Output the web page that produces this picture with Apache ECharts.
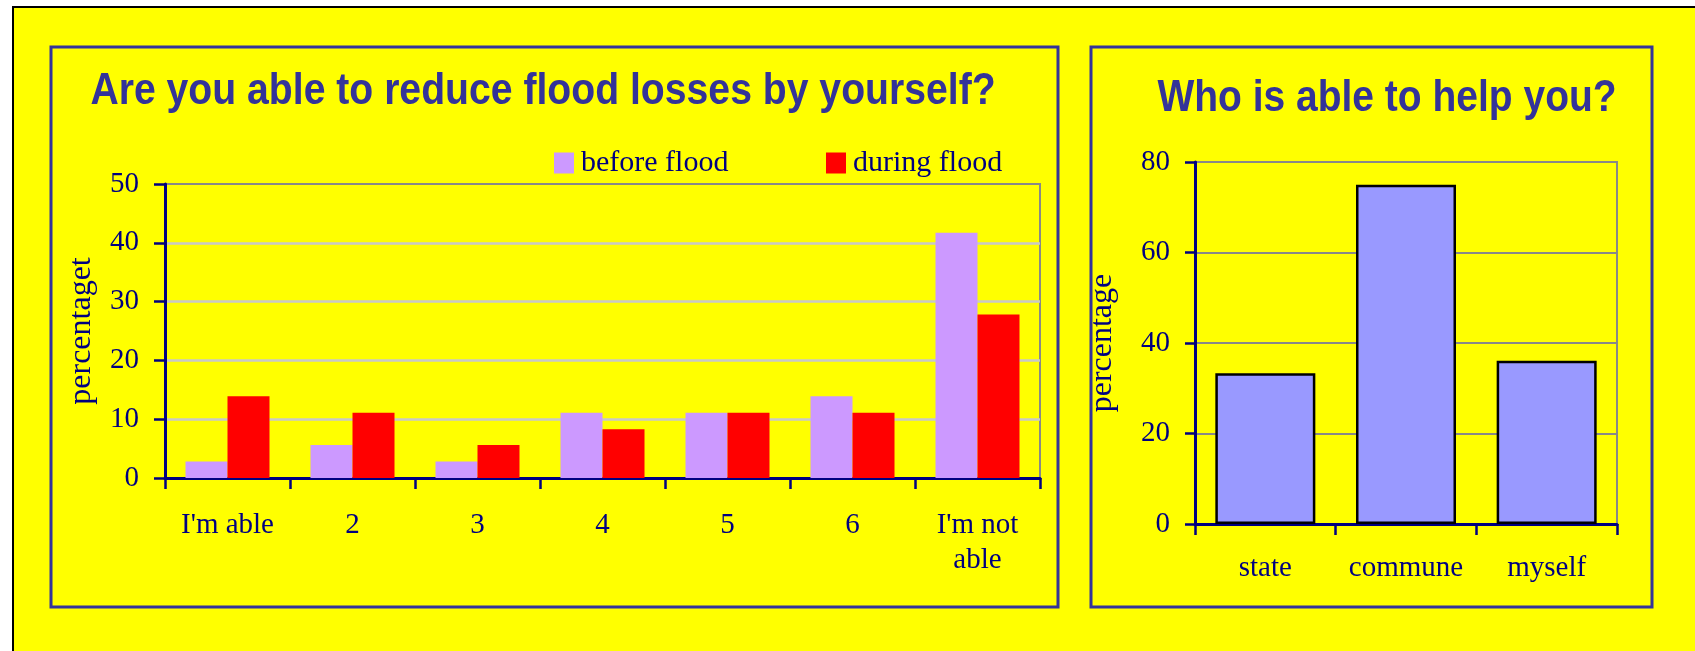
<!DOCTYPE html>
<html>
<head>
<meta charset="utf-8">
<script src="https://cdn.jsdelivr.net/npm/echarts@6/dist/echarts.min.js"></script>
<style>
  html, body { margin: 0; padding: 0; background: #ffffff; }
  #chart { width: 1695px; height: 651px; }
</style>
</head>
<body>
<div id="chart"></div>
<script>
// ---- data ----
const categories = ["I'm able", "2", "3", "4", "5", "6", "I'm not\nable"];
const beforeFlood = [2.8, 5.6, 2.8, 11.1, 11.1, 13.9, 41.7];
const duringFlood = [13.9, 11.1, 5.6, 8.3, 11.1, 11.1, 27.8];
const helpers = ["state", "commune", "myself"];
const helpValues = [33.3, 75.0, 36.1];
const leftTitle = "Are you able to reduce flood losses by yourself?";
const rightTitle = "Who is able to help you?";
const leftAxisName = "percentaget";
const rightAxisName = "percentage";

const NAVY = '#000080';
const TITLE = '#333399';
const SERIF = "'Liberation Serif', 'Times New Roman', serif";
const SANS = "'Liberation Sans', Arial, sans-serif";

const chart = echarts.init(document.getElementById('chart'), null, { renderer: 'canvas' });

const labelStyle = { fontFamily: SERIF, fontSize: 29, color: NAVY };

const option = {
  backgroundColor: '#ffffff',
  animation: false,
  graphic: [
    { type: 'rect', z: -10, shape: { x: 13, y: 7, width: 1700, height: 660 },
      style: { fill: '#FFFF00', stroke: '#000000', lineWidth: 2 } },
    { type: 'rect', z: -9, shape: { x: 51, y: 47, width: 1007, height: 560 },
      style: { fill: 'none', stroke: '#333399', lineWidth: 3 } },
    { type: 'rect', z: -9, shape: { x: 1091, y: 47, width: 561, height: 560 },
      style: { fill: 'none', stroke: '#333399', lineWidth: 3 } },
    { type: 'text', z: 5, x: 543, y: 91.5, scaleX: 0.89, scaleY: 1,
      style: { text: leftTitle, align: 'center', verticalAlign: 'middle',
               font: "bold 44px " + SANS, fill: TITLE } },
    { type: 'text', z: 5, x: 1387, y: 99, scaleX: 0.886, scaleY: 1,
      style: { text: rightTitle, align: 'center', verticalAlign: 'middle',
               font: "bold 44px " + SANS, fill: TITLE } }
  ],
  legend: [
    { data: ['before flood'], left: 554, top: 148, itemWidth: 20, itemHeight: 21,
      icon: 'rect', padding: 0, itemGap: 0, selectedMode: false,
      textStyle: { fontFamily: SERIF, fontSize: 30, color: NAVY, padding: [0, 0, 0, 2] } },
    { data: ['during flood'], left: 826, top: 148, itemWidth: 20, itemHeight: 21,
      icon: 'rect', padding: 0, itemGap: 0, selectedMode: false,
      textStyle: { fontFamily: SERIF, fontSize: 30, color: NAVY, padding: [0, 0, 0, 2] } }
  ],
  grid: [
    { left: 165, top: 184, width: 875, height: 294, show: true,
      borderColor: '#888888', borderWidth: 2, backgroundColor: 'transparent', containLabel: false },
    { left: 1195, top: 162, width: 422, height: 362, show: true,
      borderColor: '#888888', borderWidth: 2, backgroundColor: 'transparent', containLabel: false }
  ],
  xAxis: [
    { gridIndex: 0, type: 'category', data: categories,
      axisLine: { show: true, lineStyle: { color: NAVY, width: 3 } },
      axisTick: { show: true, length: 11, lineStyle: { color: NAVY, width: 2.5 } },
      axisLabel: Object.assign({ margin: 30, interval: 0, lineHeight: 35 }, labelStyle),
      splitLine: { show: false } },
    { gridIndex: 1, type: 'category', data: helpers,
      axisLine: { show: true, lineStyle: { color: NAVY, width: 3 } },
      axisTick: { show: true, length: 11, lineStyle: { color: NAVY, width: 2.5 } },
      axisLabel: Object.assign({ margin: 30, interval: 0 }, labelStyle),
      splitLine: { show: false } }
  ],
  yAxis: [
    { gridIndex: 0, type: 'value', min: 0, max: 50, interval: 10,
      name: leftAxisName, nameLocation: 'middle', nameGap: 67, nameRotate: 90,
      nameTextStyle: { fontFamily: SERIF, fontSize: 32, color: NAVY },
      axisLine: { show: true, lineStyle: { color: NAVY, width: 3 } },
      axisTick: { show: true, length: 11, lineStyle: { color: NAVY, width: 2.5 } },
      axisLabel: Object.assign({ margin: 26 }, labelStyle),
      splitLine: { show: true, showMinLine: false, showMaxLine: false,
                   lineStyle: { color: '#c8c8c8', width: 2.5 } } },
    { gridIndex: 1, type: 'value', min: 0, max: 80, interval: 20,
      name: rightAxisName, nameLocation: 'middle', nameGap: 76, nameRotate: 90,
      nameTextStyle: { fontFamily: SERIF, fontSize: 32, color: NAVY },
      axisLine: { show: true, lineStyle: { color: NAVY, width: 3 } },
      axisTick: { show: true, length: 10, lineStyle: { color: NAVY, width: 2.5 } },
      axisLabel: Object.assign({ margin: 25 }, labelStyle),
      splitLine: { show: true, showMinLine: false, showMaxLine: false,
                   lineStyle: { color: '#888888', width: 2 } } }
  ],
  series: [
    { name: 'before flood', type: 'bar', xAxisIndex: 0, yAxisIndex: 0,
      data: beforeFlood, barWidth: 42, barGap: '0%',
      itemStyle: { color: '#CC99FF' } },
    { name: 'during flood', type: 'bar', xAxisIndex: 0, yAxisIndex: 0,
      data: duringFlood, barWidth: 42, barGap: '0%',
      itemStyle: { color: '#FF0000' } },
    { name: 'helpers', type: 'bar', xAxisIndex: 1, yAxisIndex: 1,
      data: helpValues, barWidth: 100,
      itemStyle: { color: '#9999FF', borderColor: '#000000', borderWidth: 2.5 } }
  ]
};

chart.setOption(option);
</script>
</body>
</html>
